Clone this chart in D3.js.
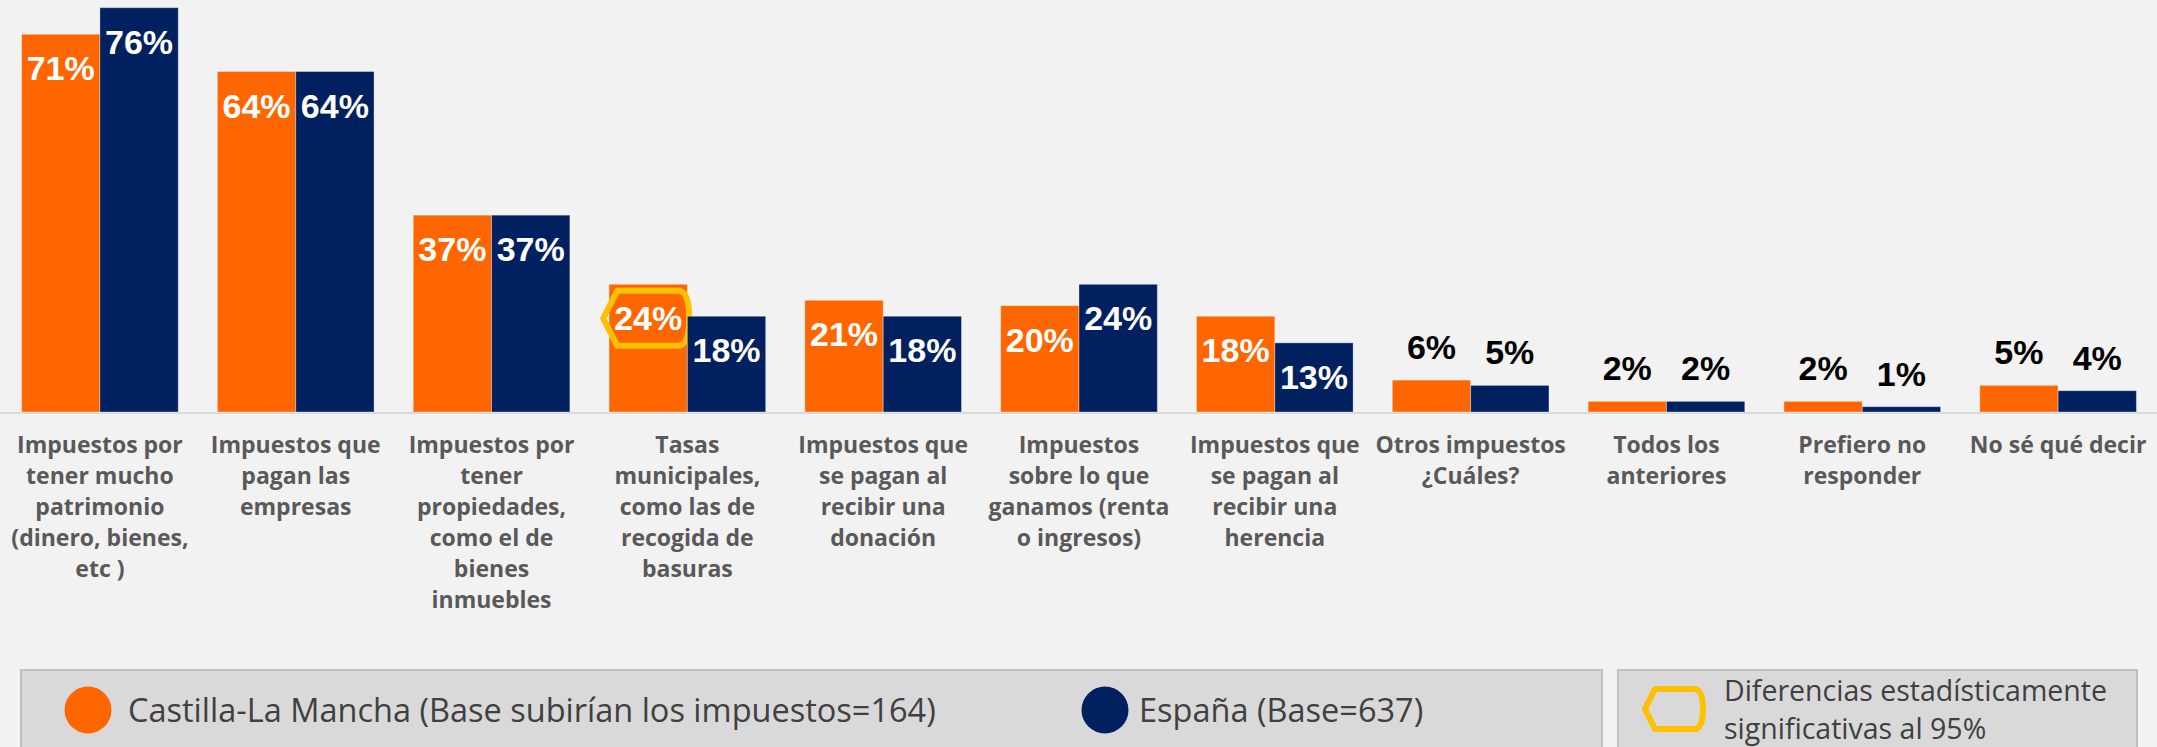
<!DOCTYPE html>
<html>
<head>
<meta charset="utf-8">
<script src="https://cdn.jsdelivr.net/npm/d3@7/dist/d3.min.js"></script>
<style>
  html, body { margin: 0; padding: 0; background: #f2f2f2; }
  svg { display: block; }
</style>
</head>
<body>
<svg id="chart" width="2157" height="747"></svg>
<script>
// Category labels, one array of lines per category
const categories = [
  ["Impuestos por", "tener mucho", "patrimonio", "(dinero, bienes,", "etc )"],
  ["Impuestos que", "pagan las", "empresas"],
  ["Impuestos por", "tener", "propiedades,", "como el de", "bienes", "inmuebles"],
  ["Tasas", "municipales,", "como las de", "recogida de", "basuras"],
  ["Impuestos que", "se pagan al", "recibir una", "donación"],
  ["Impuestos", "sobre lo que", "ganamos (renta", "o ingresos)"],
  ["Impuestos que", "se pagan al", "recibir una", "herencia"],
  ["Otros impuestos", "¿Cuáles?"],
  ["Todos los", "anteriores"],
  ["Prefiero no", "responder"],
  ["No sé qué decir"]
];

// Percentages per series
const castillaLaMancha = [71, 64, 37, 24, 21, 20, 18, 6, 2, 2, 5];
const espana           = [76, 64, 37, 18, 18, 24, 13, 5, 2, 1, 4];

// Statistically significant differences (Castilla-La Mancha vs España)
const significantCLM = [false, false, false, true, false, false, false, false, false, false, false];

const seriesNames = [
  "Castilla-La Mancha (Base subirían los impuestos=164)",
  "España (Base=637)"
];
const sigLegendLines = ["Diferencias estadísticamente", "significativas al 95%"];

const colors = ["#ff6600", "#002060"];

const svg = d3.select("#chart");
const W = 2157, H = 747;
const baseY = 412;

svg.append("rect").attr("width", W).attr("height", H).attr("fill", "#f2f2f2");

const x0 = d3.scaleBand()
  .domain(d3.range(categories.length))
  .range([2, 2156])
  .paddingInner(0.2)
  .paddingOuter(0.1);

const x1 = d3.scaleBand()
  .domain([0, 1])
  .range([0, x0.bandwidth()]);

const y = d3.scaleLinear().domain([0, 100]).range([baseY, baseY - 532]);

const rows = categories.map((c, i) => ({
  i,
  vals: [castillaLaMancha[i], espana[i]],
  sig: [significantCLM[i], false]
}));

// baseline
svg.append("line")
  .attr("x1", 0).attr("x2", W)
  .attr("y1", baseY + 1).attr("y2", baseY + 1)
  .attr("stroke", "#d9d9d9").attr("stroke-width", 2);

const groups = svg.selectAll("g.grp").data(rows).join("g")
  .attr("class", "grp")
  .attr("transform", d => `translate(${x0(d.i)},0)`);

const cells = groups.selectAll("g.cell")
  .data(d => d.vals.map((v, s) => ({ v, s, sig: d.sig[s] })))
  .join("g").attr("class", "cell");

cells.append("rect")
  .attr("x", d => x1(d.s))
  .attr("y", d => y(d.v))
  .attr("width", x1.bandwidth())
  .attr("height", d => baseY - y(d.v))
  .attr("fill", d => colors[d.s])
  .attr("stroke", "rgba(255,255,255,0.35)")
  .attr("stroke-width", 1);

const inside = v => v >= 10;

cells.append("text")
  .attr("x", d => x1(d.s) + x1.bandwidth() / 2)
  .attr("y", d => inside(d.v) ? y(d.v) + 46 : y(d.v) - 21)
  .attr("text-anchor", "middle")
  .attr("font-family", "'Liberation Sans', Arial, sans-serif")
  .attr("font-weight", "bold")
  .attr("font-size", 34)
  .attr("fill", d => inside(d.v) ? "#ffffff" : "#000000")
  .text(d => d.v + "%");

// outline shape used for significance marks
function sigShape(l, tl, tr, r, h) {
  const c = tr + (r - tr) * 0.75;
  return `M${l},0 L${tl},${-h} L${tr},${-h} C${c},${-h} ${r},${-h * 0.55} ${r},0 ` +
         `C${r},${h * 0.55} ${c},${h} ${tr},${h} L${tl},${h} Z`;
}

cells.filter(d => d.sig).append("path")
  .attr("transform", d => `translate(${x1(d.s) + x1.bandwidth() / 2},${y(d.v) + 34})`)
  .attr("d", sigShape(-45, -31, 30, 41, 27.5))
  .attr("fill", "none")
  .attr("stroke", "#ffc000")
  .attr("stroke-width", 6)
  .attr("stroke-linejoin", "round");

// category labels
groups.append("text")
  .attr("text-anchor", "middle")
  .attr("font-family", "'Open Sans', sans-serif")
  .attr("font-weight", "bold")
  .attr("font-size", 23)
  .attr("fill", "#595959")
  .selectAll("tspan")
  .data((d) => categories[d.i])
  .join("tspan")
  .attr("x", x0.bandwidth() / 2)
  .attr("y", (t, j) => 453 + j * 31)
  .text(t => t);

// legend
const legend = svg.append("g");
legend.append("rect")
  .attr("x", 21).attr("y", 670).attr("width", 1581).attr("height", 100)
  .attr("fill", "#d9d9d9").attr("stroke", "#bfbfbf").attr("stroke-width", 2);
legend.append("rect")
  .attr("x", 1618).attr("y", 670).attr("width", 519).attr("height", 100)
  .attr("fill", "#d9d9d9").attr("stroke", "#bfbfbf").attr("stroke-width", 2);

const legendItems = [
  { cx: 88, tx: 128, name: seriesNames[0], color: colors[0] },
  { cx: 1105, tx: 1139, name: seriesNames[1], color: colors[1] }
];
legend.selectAll("circle").data(legendItems).join("circle")
  .attr("cx", d => d.cx).attr("cy", 710).attr("r", 23.5)
  .attr("fill", d => d.color);
legend.selectAll("text.item").data(legendItems).join("text")
  .attr("class", "item")
  .attr("x", d => d.tx).attr("y", 722)
  .attr("font-family", "'Open Sans', sans-serif")
  .attr("font-size", 32.5)
  .attr("fill", "#404040")
  .text(d => d.name);

legend.append("path")
  .attr("transform", "translate(1674,709)")
  .attr("d", sigShape(-29, -19, 20, 29, 20))
  .attr("fill", "none")
  .attr("stroke", "#ffc000")
  .attr("stroke-width", 6)
  .attr("stroke-linejoin", "round");

legend.append("text")
  .attr("font-family", "'Open Sans', sans-serif")
  .attr("font-size", 28.5)
  .attr("fill", "#404040")
  .selectAll("tspan").data(sigLegendLines).join("tspan")
  .attr("x", 1724).attr("y", (t, j) => 701 + j * 38)
  .text(t => t);
</script>
</body>
</html>
